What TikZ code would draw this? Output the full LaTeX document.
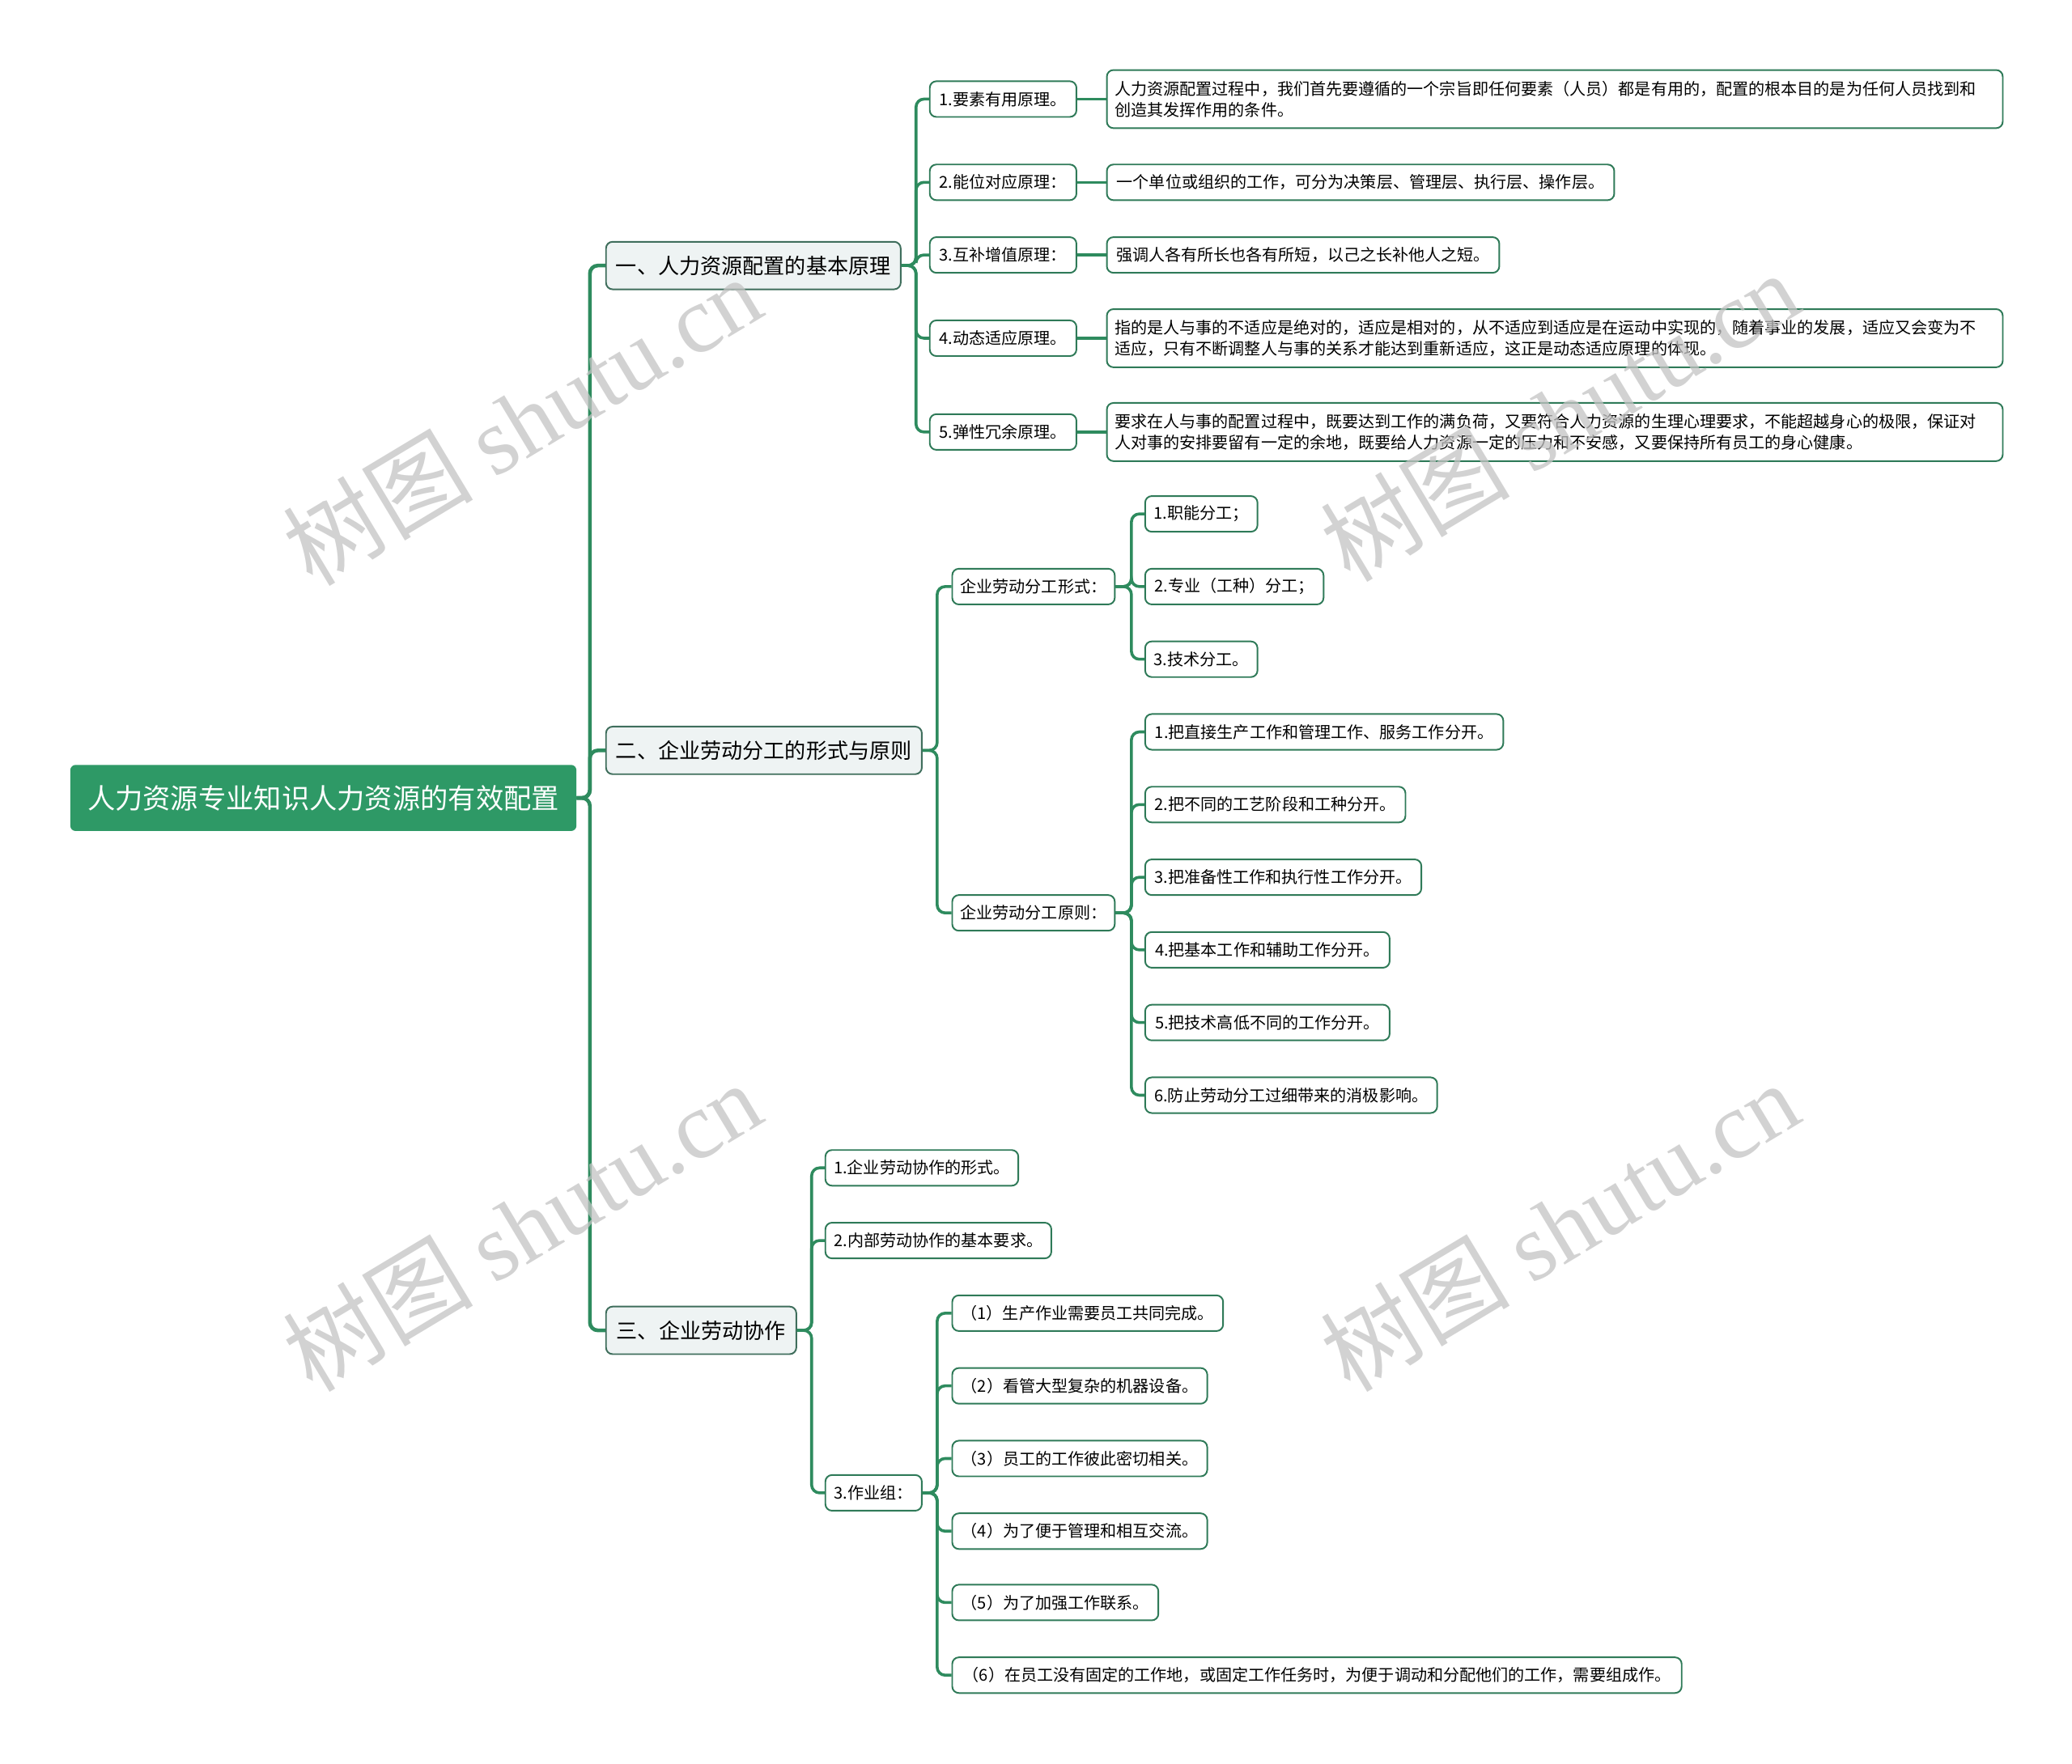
\documentclass[tikz,border=0pt]{standalone}
\usepackage{fontspec}
\setmainfont{Noto Sans CJK SC}
\newfontfamily\wmlatin{Liberation Serif}
\definecolor{rootgreen}{HTML}{2E9966}
\definecolor{edgegreen}{HTML}{2E8B5E}
\definecolor{leafborder}{HTML}{2F7A58}
\definecolor{lonefill}{HTML}{EEF3F3}
\definecolor{loneborder}{HTML}{3F6E5C}
\definecolor{wmgray}{HTML}{C4C4C4}
\tikzset{
  rootnode/.style={fill=rootgreen, rounded corners=4pt, text=white, inner sep=0pt,
    font=\fontsize{21}{25}\selectfont, minimum height=50pt, anchor=west},
  lonenode/.style={draw=loneborder, fill=lonefill, line width=1.2pt, rounded corners=5pt,
    inner sep=0pt, font=\fontsize{16}{19}\selectfont, minimum height=36pt, anchor=west},
  leafnode/.style={draw=leafborder, fill=white, line width=1.2pt, rounded corners=5pt,
    inner sep=0pt, font=\fontsize{12.3}{16}\selectfont, minimum height=27pt, anchor=west},
  descnode/.style={leafnode, align=left, minimum height=44pt, inner xsep=6pt, text width=666pt},
  edge/.style={draw=edgegreen, line width=2.2pt, rounded corners=6pt},
  rootedge/.style={edge, line width=2.8pt},
  wm/.style={text=wmgray, opacity=0.75, font=\fontsize{72}{74}\selectfont, rotate=31}
}
\newcommand\mmconn[4][edge]{\draw[#1] (#2.east) -- ++(#4,0) |- (#3.west);}
\begin{document}
\begin{tikzpicture}[x=1pt,y=-1pt]
\useasboundingbox (0,0) rectangle (1568,1335);
\fill[white] (0,0) rectangle (1568,1335);

% root and level 1
\node[rootnode, minimum width=383pt] (root) at (53,604) {人力资源专业知识人力资源的有效配置};
\node[lonenode, minimum width=223pt] (la) at (458,201) {一、人力资源配置的基本原理};
\node[lonenode, minimum width=239pt] (lb) at (458,568) {二、企业劳动分工的形式与原则};
\node[lonenode, minimum width=144pt] (lc) at (458,1007) {三、企业劳动协作};

% branch a
\node[leafnode, minimum width=111pt] (a1) at (703,75) {1.要素有用原理。};
\node[leafnode, minimum width=111pt] (a2) at (703,138) {2.能位对应原理：};
\node[leafnode, minimum width=111pt] (a3) at (703,193) {3.互补增值原理：};
\node[leafnode, minimum width=111pt] (a4) at (703,256) {4.动态适应原理。};
\node[leafnode, minimum width=111pt] (a5) at (703,327) {5.弹性冗余原理。};

\node[descnode] (d1) at (837,75) {人力资源配置过程中，我们首先要遵循的一个宗旨即任何要素（人员）都是有用的，配置的根本目的是为任何人员找到和\\创造其发挥作用的条件。};
\node[leafnode, minimum width=384pt] (d2) at (837,138) {一个单位或组织的工作，可分为决策层、管理层、执行层、操作层。};
\node[leafnode, minimum width=297pt] (d3) at (837,193) {强调人各有所长也各有所短，以己之长补他人之短。};
\node[descnode] (d4) at (837,256) {指的是人与事的不适应是绝对的，适应是相对的，从不适应到适应是在运动中实现的，随着事业的发展，适应又会变为不\\适应，只有不断调整人与事的关系才能达到重新适应，这正是动态适应原理的体现。};
\node[descnode] (d5) at (837,327) {要求在人与事的配置过程中，既要达到工作的满负荷，又要符合人力资源的生理心理要求，不能超越身心的极限，保证对\\人对事的安排要留有一定的余地，既要给人力资源一定的压力和不安感，又要保持所有员工的身心健康。};

% branch b
\node[leafnode, minimum width=123pt] (b1) at (720,444) {企业劳动分工形式：};
\node[leafnode, minimum width=123pt] (b2) at (720,691) {企业劳动分工原则：};
\node[leafnode, minimum width=85pt] (b11) at (866,389) {1.职能分工；};
\node[leafnode, minimum width=135pt] (b12) at (866,444) {2.专业（工种）分工；};
\node[leafnode, minimum width=85pt] (b13) at (866,499) {3.技术分工。};
\node[leafnode, minimum width=271pt] (b21) at (866,554) {1.把直接生产工作和管理工作、服务工作分开。};
\node[leafnode, minimum width=197pt] (b22) at (866,609) {2.把不同的工艺阶段和工种分开。};
\node[leafnode, minimum width=209pt] (b23) at (866,664) {3.把准备性工作和执行性工作分开。};
\node[leafnode, minimum width=185pt] (b24) at (866,719) {4.把基本工作和辅助工作分开。};
\node[leafnode, minimum width=185pt] (b25) at (866,774) {5.把技术高低不同的工作分开。};
\node[leafnode, minimum width=221pt] (b26) at (866,829) {6.防止劳动分工过细带来的消极影响。};

% branch c
\node[leafnode, minimum width=146pt] (c1) at (624,884) {1.企业劳动协作的形式。};
\node[leafnode, minimum width=171pt] (c2) at (624,939) {2.内部劳动协作的基本要求。};
\node[leafnode, minimum width=73pt] (c3) at (624,1130) {3.作业组：};
\node[leafnode, minimum width=205pt] (c31) at (720,994) {（1）生产作业需要员工共同完成。};
\node[leafnode, minimum width=193pt] (c32) at (720,1049) {（2）看管大型复杂的机器设备。};
\node[leafnode, minimum width=193pt] (c33) at (720,1104) {（3）员工的工作彼此密切相关。};
\node[leafnode, minimum width=193pt] (c34) at (720,1159) {（4）为了便于管理和相互交流。};
\node[leafnode, minimum width=156pt] (c35) at (720,1213) {（5）为了加强工作联系。};
\node[leafnode, minimum width=552pt] (c36) at (720,1268) {（6）在员工没有固定的工作地，或固定工作任务时，为便于调动和分配他们的工作，需要组成作。};

% connectors
\foreach \c in {la,lb,lc} {\mmconn[rootedge]{root}{\c}{10}}
\foreach \c in {a1,a2,a3,a4,a5} {\mmconn{la}{\c}{11}}
\foreach \a/\d in {a1/d1,a2/d2,a3/d3,a4/d4,a5/d5} {\draw[edge] (\a.east) -- (\d.west);}
\foreach \c in {b1,b2} {\mmconn{lb}{\c}{11}}
\foreach \c in {b11,b12,b13} {\mmconn{b1}{\c}{12}}
\foreach \c in {b21,b22,b23,b24,b25,b26} {\mmconn{b2}{\c}{12}}
\foreach \c in {c1,c2,c3} {\mmconn{lc}{\c}{11}}
\foreach \c in {c31,c32,c33,c34,c35,c36} {\mmconn{c3}{\c}{11}}

% watermarks
\node[wm] (w1) at (395,318) {树图 {\wmlatin shutu.cn}};
\node[wm] (w2) at (1180,315) {树图 {\wmlatin shutu.cn}};
\node[wm] (w3) at (395,928) {树图 {\wmlatin shutu.cn}};
\node[wm] (w4) at (1180,928) {树图 {\wmlatin shutu.cn}};
\end{tikzpicture}
\end{document}
